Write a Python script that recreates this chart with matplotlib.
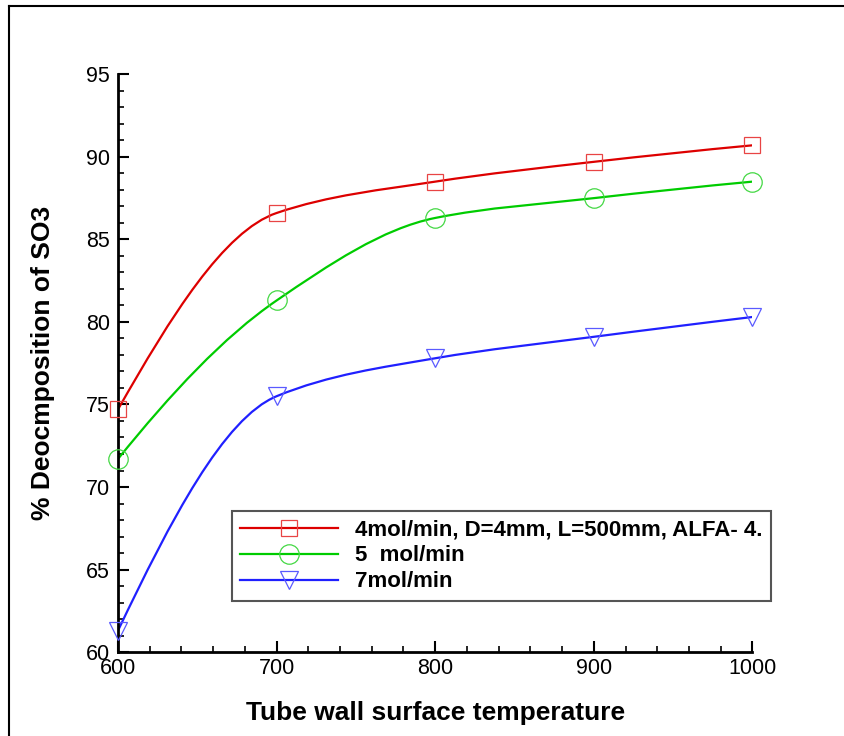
import matplotlib
matplotlib.use("Agg")
import matplotlib.pyplot as plt
from matplotlib.path import Path
from matplotlib.patches import PathPatch
from matplotlib.lines import Line2D
from matplotlib.ticker import MultipleLocator
import numpy as np

plt.rcParams['font.family'] = ['Liberation Sans', 'DejaVu Sans']

# data
temps = [600, 700, 800, 900, 1000]
flow_4 = [74.7, 86.6, 88.5, 89.7, 90.7]
flow_5 = [71.7, 81.3, 86.3, 87.5, 88.5]
flow_7 = [61.3, 75.5, 77.8, 79.1, 80.3]
labels = ["4mol/min, D=4mm, L=500mm, ALFA- 4.", "5  mol/min", "7mol/min"]


def smooth_path(x, y):
    # monotone cubic (Fritsch-Carlson) tangents, drawn as bezier segments
    x = np.asarray(x, float)
    y = np.asarray(y, float)
    h = np.diff(x)
    d = np.diff(y) / h
    m = np.zeros_like(y)
    for i in range(1, len(x) - 1):
        if d[i - 1] * d[i] > 0:
            m[i] = 2 * d[i - 1] * d[i] / (d[i - 1] + d[i])
    # end tangents: 3-point estimate
    m[0] = ((2 * h[0] + h[1]) * d[0] - h[0] * d[1]) / (h[0] + h[1])
    m[-1] = ((2 * h[-1] + h[-2]) * d[-1] - h[-1] * d[-2]) / (h[-1] + h[-2])
    verts = [(x[0], y[0])]
    codes = [Path.MOVETO]
    for i in range(len(x) - 1):
        verts += [(x[i] + h[i] / 3, y[i] + m[i] * h[i] / 3),
                  (x[i + 1] - h[i] / 3, y[i + 1] - m[i + 1] * h[i] / 3),
                  (x[i + 1], y[i + 1])]
        codes += [Path.CURVE4] * 3
    return Path(verts, codes)


fig = plt.figure(figsize=(8.44, 7.36), dpi=100)
ax = fig.add_axes([0.1398, 0.114, 0.7517, 0.785])

styles = [
    (flow_4, "#dd0000", "#e84444", "s", 11),
    (flow_5, "#00cc00", "#44d844", "o", 14),
    (flow_7, "#2020ff", "#5a5aff", "v", 13),
]

handles = []
for (vals, col, mcol, mk, ms), lab in zip(styles, labels):
    ax.add_patch(PathPatch(smooth_path(temps, vals), fill=False,
                           edgecolor=col, linewidth=1.6, zorder=2))
    ax.plot(temps, vals, linestyle="none", marker=mk, markersize=ms,
            markerfacecolor="none", markeredgecolor=mcol,
            markeredgewidth=0.9, zorder=3, clip_on=False)
    handles.append(Line2D([], [], color=col, linewidth=1.6, marker=mk,
                          markersize=ms, markerfacecolor="none",
                          markeredgecolor=mcol, markeredgewidth=0.9))

ax.set_xlim(600, 1000)
ax.set_ylim(60, 95)
ax.xaxis.set_major_locator(MultipleLocator(100))
ax.xaxis.set_minor_locator(MultipleLocator(20))
ax.yaxis.set_major_locator(MultipleLocator(5))
ax.yaxis.set_minor_locator(MultipleLocator(1))

for s in ["top", "right"]:
    ax.spines[s].set_visible(False)
for s in ["left", "bottom"]:
    ax.spines[s].set_linewidth(2)

ax.tick_params(which="both", direction="in", width=1.5, labelsize=15.5,
               top=False, right=False)
ax.tick_params(which="major", length=8)
ax.tick_params(which="minor", length=4.5, width=1.2)
ax.tick_params(axis="y", pad=6)
ax.tick_params(axis="x", pad=4)

ax.set_xlabel("Tube wall surface temperature", fontsize=19,
              fontweight="bold", labelpad=16)
ax.set_ylabel("% Deocmposition of SO3", fontsize=19,
              fontweight="bold", labelpad=22)

leg = ax.legend(handles=handles, labels=labels, loc="lower left",
                bbox_to_anchor=(0.179, 0.088), numpoints=1,
                handlelength=4.4, handletextpad=0.75, labelspacing=0.22,
                borderpad=0.4, borderaxespad=0, fancybox=False, framealpha=1,
                prop={"weight": "bold", "size": 16})
leg.get_frame().set_edgecolor("#555555")
leg.get_frame().set_linewidth(1.5)

# outer frame (only left and top edges visible in reference)
fig.add_artist(Line2D([0.011, 0.011], [0, 0.9925], transform=fig.transFigure,
                      color="black", linewidth=1.5))
fig.add_artist(Line2D([0.011, 1.0], [0.9925, 0.9925], transform=fig.transFigure,
                      color="black", linewidth=1.5))

fig.savefig("out.png", dpi=100)
